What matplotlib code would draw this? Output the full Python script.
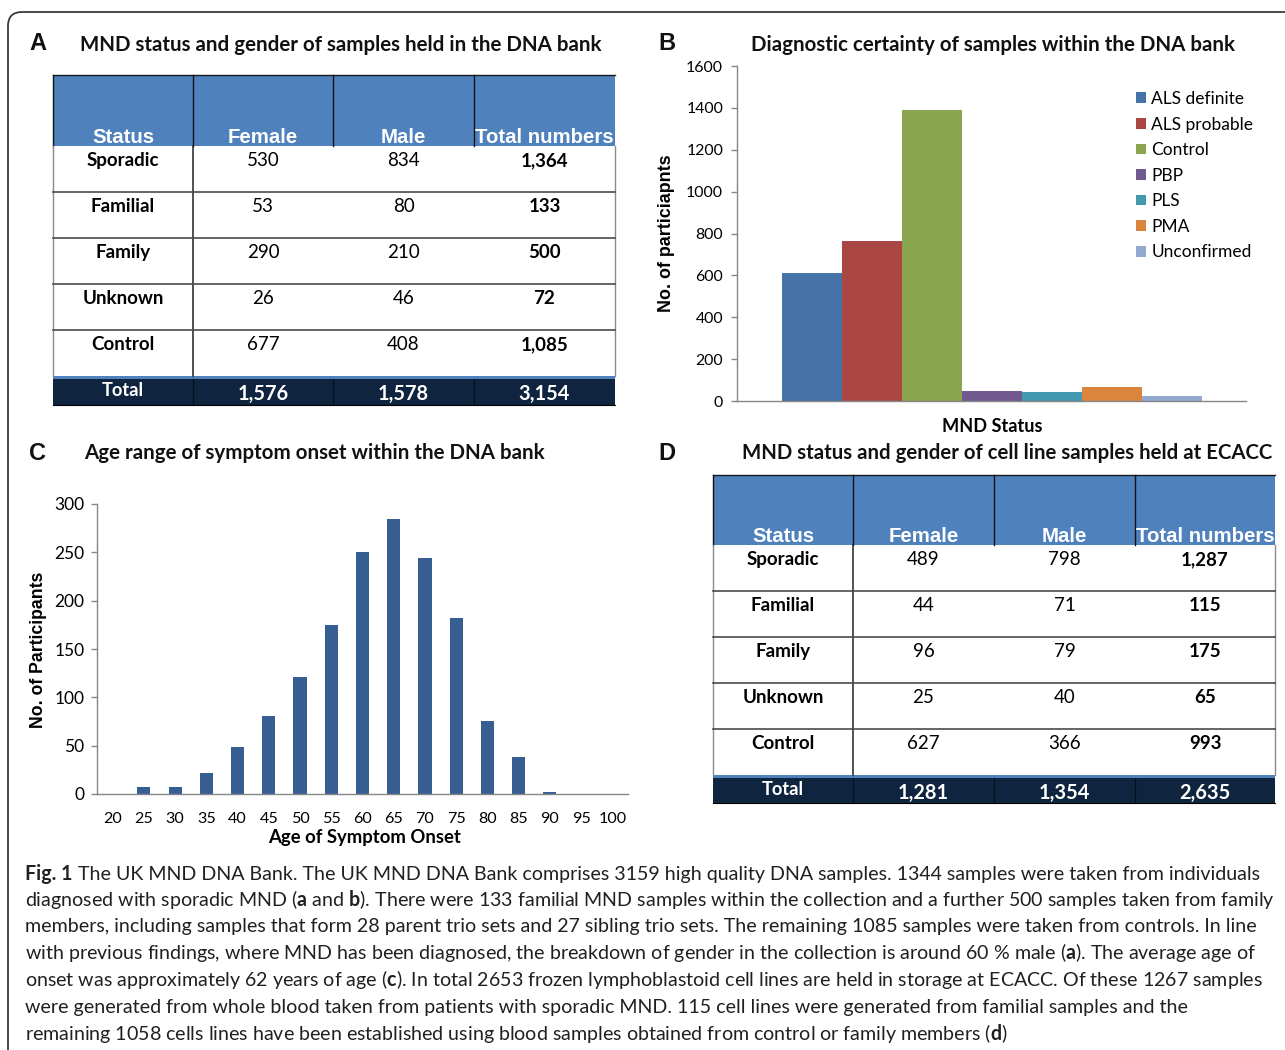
import matplotlib
matplotlib.use("Agg")
import matplotlib.pyplot as plt
from matplotlib.patches import Rectangle, FancyBboxPatch
from matplotlib import font_manager as fm

W, H, DPI = 1285, 1050, 100

# ---------------- data ----------------
status_labels = ["Sporadic", "Familial", "Family", "Unknown", "Control"]
table_headers = ["Status", "Female", "Male", "Total numbers"]
dna_female = [530, 53, 290, 26, 677]
dna_male = [834, 80, 210, 46, 408]
cell_female = [489, 44, 96, 25, 627]
cell_male = [798, 71, 79, 40, 366]

certainty_labels = ["ALS definite", "ALS probable", "Control", "PBP", "PLS", "PMA", "Unconfirmed"]
certainty_values = [611, 764, 1390, 48, 43, 67, 24]
certainty_colors = ["#4572A7", "#AA4643", "#89A54E", "#71588F", "#4198AF", "#DB843D", "#93A9CF"]

onset_ages = ["20", "25", "30", "35", "40", "45", "50", "55", "60", "65", "70",
              "75", "80", "85", "90", "95", "100"]
onset_counts = [0, 7, 7, 22, 49, 81, 121, 175, 250, 284, 244, 182, 76, 38, 2, 0, 0]

caption_head = "Fig. 1"
caption_lines = [
    r"The UK MND DNA Bank. The UK MND DNA Bank comprises 3159 high quality DNA samples. 1344 samples were taken from individuals",
    r"diagnosed with sporadic MND ($\mathbf{a}$ and $\mathbf{b}$). There were 133 familial MND samples within the collection and a further 500 samples taken from family",
    r"members, including samples that form 28 parent trio sets and 27 sibling trio sets. The remaining 1085 samples were taken from controls. In line",
    r"with previous findings, where MND has been diagnosed, the breakdown of gender in the collection is around 60 % male ($\mathbf{a}$). The average age of",
    r"onset was approximately 62 years of age ($\mathbf{c}$). In total 2653 frozen lymphoblastoid cell lines are held in storage at ECACC. Of these 1267 samples",
    r"were generated from whole blood taken from patients with sporadic MND. 115 cell lines were generated from familial samples and the",
    r"remaining 1058 cells lines have been established using blood samples obtained from control or family members ($\mathbf{d}$)",
]


# ---------------- fonts ----------------
def has_font(name):
    try:
        fm.findfont(fm.FontProperties(family=name), fallback_to_default=False)
        return True
    except Exception:
        return False


BODY = "Lato" if has_font("Lato") else "DejaVu Sans"
HEAD = "Liberation Sans" if has_font("Liberation Sans") else "DejaVu Sans"
CAP = "Liberation Sans Narrow" if has_font("Liberation Sans Narrow") else BODY

plt.rcParams["mathtext.fontset"] = "custom"
plt.rcParams["mathtext.rm"] = CAP
plt.rcParams["mathtext.bf"] = CAP + ":bold"
plt.rcParams["mathtext.it"] = CAP + ":italic"

fig = plt.figure(figsize=(W / DPI, H / DPI), dpi=DPI)
fig.patch.set_facecolor("white")
ov = fig.add_axes([0, 0, 1, 1], zorder=0)
ov.set_xlim(0, W)
ov.set_ylim(H, 0)
ov.axis("off")
renderer = fig.canvas.get_renderer()


def size_for(s, width, family, weight="normal"):
    t = ov.text(0, 0, s, fontfamily=family, fontweight=weight, fontsize=10)
    w = t.get_window_extent(renderer).width
    t.remove()
    return 10.0 * width / w


def rect(l, t, r, b):
    return [l / W, 1 - b / H, (r - l) / W, (b - t) / H]


# ---------------- frame ----------------
ov.add_patch(FancyBboxPatch((8, 12), 1500, 1300, boxstyle="round,pad=0,rounding_size=14",
                            fc="none", ec="#3a3a3a", lw=1.3))

# ---------------- panel letters & titles ----------------
for (x, y, s) in [(38, 50, "A"), (667, 50, "B"), (38, 460, "C"), (667, 460, "D")]:
    ov.text(x, y, s, fontfamily=HEAD, fontweight="bold", fontsize=17, ha="center",
            va="baseline", color="#111111")

titles = [
    (80, 604, 51, "MND status and gender of samples held in the DNA bank"),
    (751, 1235, 51, "Diagnostic certainty of samples within the DNA bank"),
    (84, 545, 459, "Age range of symptom onset within the DNA bank"),
    (742, 1273, 459, "MND status and gender of cell line samples held at ECACC"),
]
for x0, x1, y, s in titles:
    fs = size_for(s, x1 - x0, BODY, "bold")
    ov.text(x0, y, s, fontfamily=BODY, fontweight="bold", fontsize=fs, ha="left",
            va="baseline", color="#111111")

# ---------------- tables ----------------
HEAD_FS = size_for("Total numbers", 139, HEAD, "bold")
LAB_FS = size_for("Sporadic", 73, BODY, "bold")
NUM_FS = LAB_FS
TOT_LAB_FS = size_for("Total", 42, BODY, "bold")
TOT_VAL_FS = size_for("1,576", 51, BODY, "bold")


def draw_table(xe, ytop, yhead, row_h, total_h, female, male):
    x0, x1 = xe[0], xe[-1]
    n = len(status_labels)
    ybody = yhead + n * row_h
    # header block
    ov.add_patch(Rectangle((x0, ytop), x1 - x0, yhead - ytop, fc="#4F81BD", ec="none"))
    # total block
    ov.add_patch(Rectangle((x0, ybody), x1 - x0, 3, fc="#4F81BD", ec="none"))
    ov.add_patch(Rectangle((x0, ybody + 3), x1 - x0, total_h - 3, fc="#0F243E", ec="none"))
    # header lines
    ov.plot([x0, x1], [ytop, ytop], color="#1a1a1a", lw=1.0)
    for xv in xe[:-1]:
        ov.plot([xv, xv], [ytop, yhead], color="#111111", lw=1.0)
    # body lines
    ov.plot([x0, x0], [yhead, ybody], color="#8a8a8a", lw=1.0)
    ov.plot([x1, x1], [yhead, ybody], color="#8a8a8a", lw=1.0)
    ov.plot([xe[1], xe[1]], [yhead, ybody], color="#222222", lw=1.1)
    for i in range(1, n):
        yy = yhead + i * row_h
        ov.plot([x0, x1], [yy, yy], color="#4a4a4a", lw=1.2)
    for xv in xe[1:-1]:
        ov.plot([xv, xv], [ybody + 3, ybody + total_h], color="#000000", lw=0.8, alpha=0.6)
    ov.plot([x0, x1], [ybody + total_h, ybody + total_h], color="#000000", lw=0.8)
    # header texts
    centers = [(xe[i] + xe[i + 1]) / 2 for i in range(4)]
    for c, h in zip(centers, table_headers):
        ov.text(c, yhead - 3, h, fontfamily=HEAD, fontweight="bold", fontsize=HEAD_FS,
                color="white", ha="center", va="baseline")
    # body texts
    tf, tm = 0, 0
    for i, (lab, f, m) in enumerate(zip(status_labels, female, male)):
        yb = yhead + i * row_h + 20
        ov.text(centers[0], yb, lab, fontfamily=BODY, fontweight="bold", fontsize=LAB_FS,
                color="black", ha="center", va="baseline")
        ov.text(centers[1], yb, f"{f:,}", fontfamily=BODY, fontsize=NUM_FS,
                color="black", ha="center", va="baseline")
        ov.text(centers[2], yb, f"{m:,}", fontfamily=BODY, fontsize=NUM_FS,
                color="black", ha="center", va="baseline")
        ov.text(centers[3], yb, f"{f + m:,}", fontfamily=BODY, fontweight="bold",
                fontsize=NUM_FS, color="black", ha="center", va="baseline")
        tf += f
        tm += m
    ov.text(centers[0], ybody + 20, "Total", fontfamily=BODY, fontweight="bold",
            fontsize=TOT_LAB_FS, color="white", ha="center", va="baseline")
    for c, v in zip(centers[1:], [tf, tm, tf + tm]):
        ov.text(c, ybody + 24, f"{v:,}", fontfamily=BODY, fontweight="bold",
                fontsize=TOT_VAL_FS, color="white", ha="center", va="baseline")


draw_table([53, 193, 333, 474, 615], 75, 146, 46, 29, dna_female, dna_male)
draw_table([713, 853, 994, 1135, 1275], 475, 545, 46, 28, cell_female, cell_male)

GREY = "#868686"

# ---------------- panel B ----------------
axB = fig.add_axes(rect(737, 66, 1246, 401), zorder=2)
axB.patch.set_alpha(0)
for i, (lab, val, col) in enumerate(zip(certainty_labels, certainty_values, certainty_colors)):
    axB.bar(i, val, width=1.0, color=col, label=lab)
axB.set_xlim(-1.25, 7.233)
axB.set_ylim(0, 1600)
axB.set_yticks(range(0, 1601, 200))
axB.set_xticks([])
for sp in ["top", "right"]:
    axB.spines[sp].set_visible(False)
for sp in ["left", "bottom"]:
    axB.spines[sp].set_color(GREY)
    axB.spines[sp].set_linewidth(1.0)
tickfsB = size_for("1600", 37, BODY)
axB.tick_params(axis="y", direction="out", length=4, width=1, color=GREY, pad=6,
                labelsize=tickfsB, labelcolor="black")
for t in axB.get_yticklabels():
    t.set_fontfamily(BODY)
axB.set_ylabel("No. of particiapnts", fontfamily=HEAD, fontweight="bold",
               fontsize=size_for("No. of particiapnts", 157, HEAD, "bold"))
axB.yaxis.set_label_coords((675 - 737) / 509, 0.5)
axB.set_xlabel("MND Status", fontfamily=BODY, fontweight="bold",
               fontsize=size_for("MND Status", 100, BODY, "bold"))
axB.xaxis.set_label_coords((992 - 737) / 509, (401 - 418) / 335)
legfs = size_for("ALS definite", 93, BODY)
leg = axB.legend(loc="upper left", bbox_to_anchor=(1136 / W, 1 - 91 / H),
                 bbox_transform=fig.transFigure, frameon=False,
                 prop={"family": BODY, "size": legfs}, handlelength=0.58,
                 handleheight=0.58, handletextpad=0.3, labelspacing=0.55,
                 borderpad=0, borderaxespad=0)

# ---------------- panel C ----------------
axC = fig.add_axes(rect(97, 504, 628, 794), zorder=2)
axC.patch.set_alpha(0)
axC.bar(range(len(onset_counts)), onset_counts, width=0.42, color="#375E93")
axC.set_xlim(-0.5, len(onset_counts) - 0.5)
axC.set_ylim(0, 300)
axC.set_yticks(range(0, 301, 50))
axC.set_xticks(range(len(onset_ages)))
axC.set_xticklabels(onset_ages)
for sp in ["top", "right"]:
    axC.spines[sp].set_visible(False)
for sp in ["left", "bottom"]:
    axC.spines[sp].set_color(GREY)
    axC.spines[sp].set_linewidth(1.0)
ytfs = size_for("300", 30, BODY)
xtfs = size_for("100", 28, BODY)
axC.tick_params(axis="y", direction="out", length=4, width=1, color=GREY, pad=5,
                labelsize=ytfs, labelcolor="black")
axC.tick_params(axis="x", length=0, pad=13, labelsize=xtfs, labelcolor="black")
for t in axC.get_yticklabels() + axC.get_xticklabels():
    t.set_fontfamily(BODY)
axC.set_ylabel("No. of Participants", fontfamily=HEAD, fontweight="bold",
               fontsize=size_for("No. of Participants", 155, HEAD, "bold"))
axC.yaxis.set_label_coords((47 - 97) / 531, 0.497)
axC.set_xlabel("Age of Symptom Onset", fontfamily=BODY, fontweight="bold",
               fontsize=size_for("Age of Symptom Onset", 193, BODY, "bold"))
axC.xaxis.set_label_coords((365 - 97) / 531, (794 - 829) / 290)

# ---------------- caption ----------------
tmp = ov.text(0, 0, caption_lines[1], fontfamily=CAP, fontsize=10)
capfs = 10.0 * 1250 / tmp.get_window_extent(renderer).width
tmp.remove()
cap_y = [880, 906, 932, 959, 986, 1013, 1040]
head = ov.text(25, cap_y[0], caption_head, fontfamily=CAP, fontweight="bold",
               fontsize=capfs, color="#231F20", ha="left", va="baseline")
head_w = head.get_window_extent(renderer).width
space_w = capfs * DPI / 72 * 0.26
for k, (y, line) in enumerate(zip(cap_y, caption_lines)):
    x = 25 + (head_w + space_w if k == 0 else 0)
    ov.text(x, y, line, fontfamily=CAP, fontsize=capfs, color="#231F20",
            ha="left", va="baseline")

fig.savefig("out.png", dpi=DPI, facecolor="white")
